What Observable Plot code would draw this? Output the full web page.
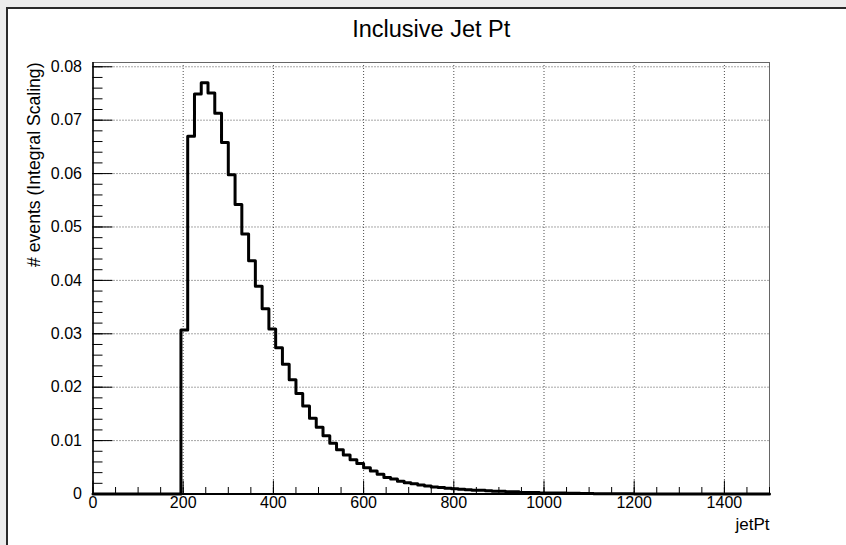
<!DOCTYPE html>
<html>
<head>
<meta charset="utf-8">
<script src="https://cdn.jsdelivr.net/npm/d3@7"></script>
<script src="https://cdn.jsdelivr.net/npm/@observablehq/plot@0.6"></script>
<style>
  html, body { margin: 0; padding: 0; background: #ffffff; }
  #wrap { position: relative; width: 846px; height: 545px; overflow: hidden; }
  #chart { position: absolute; left: 0; top: 0; }
  .strip { position: absolute; }
</style>
</head>
<body>
<div id="wrap">
  <div id="chart"></div>
  <div class="strip" style="left:0;top:0;width:846px;height:7px;background:#ececec"></div>
  <div class="strip" style="left:0;top:0;width:6px;height:545px;background:#ececec"></div>
  <div class="strip" style="left:6px;top:7px;width:840px;height:2px;background:#2a2a2a"></div>
  <div class="strip" style="left:6px;top:7px;width:2px;height:538px;background:#2a2a2a"></div>
</div>
<script>
// ---- data ----
const titleText = "Inclusive Jet Pt";
const xLabel = "jetPt";
const yLabel = "# events (Integral Scaling)";
const binLow = 0;
const binWidth = 15;
const binValues = [
  0, 0, 0, 0, 0, 0, 0, 0, 0, 0,
  0, 0, 0, 0.0307, 0.0670, 0.0749, 0.0770, 0.0751, 0.0713, 0.0658,
  0.0598, 0.0542, 0.0487, 0.0437, 0.0389, 0.0347, 0.0309, 0.0274, 0.0243, 0.0214,
  0.0188, 0.0165, 0.0142, 0.0125, 0.0109, 0.0095, 0.0083, 0.0073, 0.0064, 0.0057,
  0.0049, 0.0043, 0.0037, 0.0031, 0.0028, 0.0024, 0.0021, 0.0019, 0.0017, 0.0015,
  0.0013, 0.0012, 0.0011, 0.0010, 0.0009, 0.0008, 0.0007, 0.0007, 0.0006, 0.0005,
  0.0005, 0.0004, 0.0004, 0.0003, 0.0003, 0.0003, 0.0002, 0.0002, 0.0002, 0.0002,
  0.00015, 0.00012, 0.0001, 0.00008, 0.00007, 0.00006, 0.00005, 0.00004, 0.00003, 0.00003,
  0.00002, 0.00002, 0.00002, 0.00001, 0.00001, 0.00001, 0.00001, 0.00001, 0.000008, 0.000006,
  0.000005, 0.000004, 0.000004, 0.000003, 0.000003, 0.000002, 0.000002, 0.000002, 0.000001, 0.000001
];
const xTicks = [0, 200, 400, 600, 800, 1000, 1200, 1400];
const yTicks = [0, 0.01, 0.02, 0.03, 0.04, 0.05, 0.06, 0.07, 0.08];
const xDomain = [0, 1500];
const yDomain = [0, 0.0808];

// ---- build ----
const pts = binValues.map((v, i) => ({x: binLow + i * binWidth, y: v}));
pts.push({x: binLow + binValues.length * binWidth, y: binValues[binValues.length - 1]});
const xMinor = d3.range(0, 1500.1, 50);
const yMinor = d3.range(0, 0.08001, 0.002);

const W = 846, H = 545;
const mL = 92.5, mR = 77, mT = 62, mB = 51.5;
const fw = W - mL - mR, fh = H - mT - mB;
const font = "'Liberation Sans', Arial, Helvetica, sans-serif";

const chart = Plot.plot({
  width: W, height: H,
  marginLeft: mL, marginRight: mR, marginTop: mT, marginBottom: mB,
  style: {fontFamily: font, fontSize: "16px", background: "transparent", color: "#000", overflow: "visible"},
  x: {domain: xDomain, axis: null},
  y: {domain: yDomain, axis: null},
  marks: [
    Plot.gridX(xTicks.slice(1), {stroke: "#000", strokeOpacity: 0.7, strokeDasharray: "1,2"}),
    Plot.gridY(yTicks.slice(1), {stroke: "#000", strokeOpacity: 0.7, strokeDasharray: "1,2"}),
    Plot.frame({stroke: "#666", strokeWidth: 1}),
    Plot.tickX(xMinor, {x: d => d, insetTop: fh - 6.5, stroke: "#000", strokeWidth: 1}),
    Plot.tickX(xTicks, {x: d => d, insetTop: fh - 13, stroke: "#000", strokeWidth: 1}),
    Plot.tickY(yMinor, {y: d => d, insetRight: fw - 10, stroke: "#000", strokeWidth: 1}),
    Plot.tickY(yTicks, {y: d => d, insetRight: fw - 20, stroke: "#000", strokeWidth: 1}),
    Plot.ruleX([0], {stroke: "#000", strokeWidth: 1.5}),
    Plot.ruleY([0], {stroke: "#000", strokeWidth: 2}),
    Plot.line(pts, {x: "x", y: "y", curve: "step-after", stroke: "#000", strokeWidth: 3}),
    Plot.axisX({ticks: xTicks, tickSize: 0, tickPadding: 3, fontSize: 16, label: null, tickFormat: d => String(d)}),
    Plot.axisY({ticks: yTicks, tickSize: 0, tickPadding: 11, fontSize: 16, label: null, tickFormat: d => d === 0 ? "0" : d.toFixed(2)}),
    Plot.text([titleText], {text: d => d, frameAnchor: "top", dy: -33, fontSize: 23.5, lineAnchor: "middle"}),
    Plot.text([xLabel], {text: d => d, frameAnchor: "bottom-right", textAnchor: "end", dy: 31, fontSize: 17, lineAnchor: "middle"}),
    Plot.text([yLabel], {text: d => d, frameAnchor: "top-left", textAnchor: "end", rotate: -90, dx: -59, fontSize: 17.6, lineAnchor: "middle"})
  ]
});
document.getElementById("chart").appendChild(chart);
</script>
</body>
</html>
